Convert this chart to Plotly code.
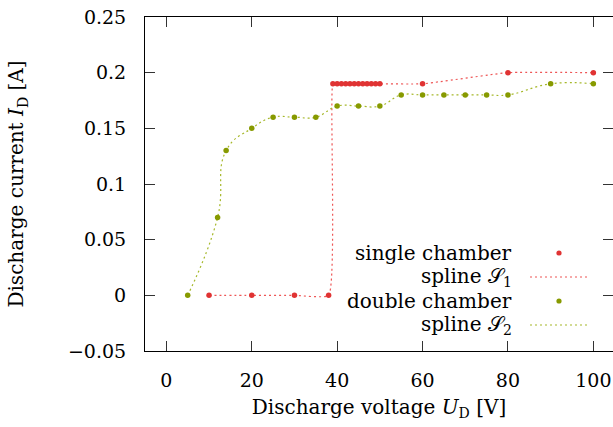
import plotly.graph_objects as go

# ---- data ----
single_x = [10, 20, 30, 38, 39, 40, 41, 42, 43, 44, 45, 46, 47, 48, 49, 50, 60, 80, 100]
single_y = [0, 0, 0, 0, 0.19, 0.19, 0.19, 0.19, 0.19, 0.19, 0.19, 0.19, 0.19, 0.19, 0.19, 0.19, 0.19, 0.2, 0.2]

double_x = [5, 12, 14, 20, 25, 30, 35, 40, 45, 50, 55, 60, 65, 70, 75, 80, 90, 100]
double_y = [0, 0.07, 0.13, 0.15, 0.16, 0.16, 0.16, 0.17, 0.17, 0.17, 0.18, 0.18, 0.18, 0.18, 0.18, 0.18, 0.19, 0.19]

x_tickvals = [0, 20, 40, 60, 80, 100]
x_ticktext = ["0", "20", "40", "60", "80", "100"]
y_tickvals = [-0.05, 0, 0.05, 0.1, 0.15, 0.2, 0.25]
y_ticktext = ["\u22120.05", "0", "0.05", "0.1", "0.15", "0.2", "0.25"]

legend_labels = ["single chamber", "spline \U0001D4AE<sub>1</sub>", "double chamber", "spline \U0001D4AE<sub>2</sub>"]

RED = "#e03333"
RED_LINE = "#ee5555"
GREEN = "#879a00"
GREEN_LINE = "#a6b82a"
FONT = "DejaVu Serif"
FS_TICK = 19
FS = 20

W, H = 613, 427
L, R, T, B = 145, 0, 17, 76

fig = go.Figure()

fig.add_trace(go.Scatter(x=single_x, y=single_y, mode="lines",
                         line=dict(color=RED_LINE, width=1.2, dash="2px,3px", shape="spline", smoothing=0.4),
                         showlegend=False, hoverinfo="skip"))
fig.add_trace(go.Scatter(x=double_x, y=double_y, mode="lines",
                         line=dict(color=GREEN_LINE, width=1.2, dash="2px,3px", shape="spline", smoothing=1.3),
                         showlegend=False, hoverinfo="skip"))
fig.add_trace(go.Scatter(x=single_x, y=single_y, mode="markers",
                         marker=dict(color=RED, size=5.5), showlegend=False))
fig.add_trace(go.Scatter(x=double_x, y=double_y, mode="markers",
                         marker=dict(color=GREEN, size=5.5), showlegend=False))

# ---- manual legend (text right, sample to the right) ----
pw = W - L - R
ph = H - T - B
def px(xp):
    return (xp - L) / pw
def py(yp):
    return (H - B - yp) / ph

rows_y = [253, 277, 301, 325]
text_right = 514
for i, (lab, yy) in enumerate(zip(legend_labels, rows_y)):
    fig.add_annotation(xref="paper", yref="paper", x=px(text_right), y=py(yy),
                       text=lab, showarrow=False, xanchor="right", yanchor="middle",
                       font=dict(family=FONT, size=FS, color="black"))
for yy, col in [(rows_y[0], RED), (rows_y[2], GREEN)]:
    r = 2.6
    fig.add_shape(type="circle", xref="paper", yref="paper",
                  x0=px(559 - r), x1=px(559 + r), y0=py(yy + r), y1=py(yy - r),
                  fillcolor=col, line=dict(width=0))
for yy, col in [(rows_y[1], RED_LINE), (rows_y[3], GREEN_LINE)]:
    fig.add_shape(type="line", xref="paper", yref="paper",
                  x0=px(530), x1=px(587), y0=py(yy), y1=py(yy),
                  line=dict(color=col, width=1.2, dash="2px,3px"))

axis_common = dict(showgrid=False, zeroline=False, showline=True, linecolor="black", linewidth=1,
                   mirror="ticks", ticks="inside", ticklen=10, tickcolor="#333333", tickwidth=1,
                   tickfont=dict(family=FONT, size=FS_TICK, color="black"))

fig.update_layout(
    width=W, height=H,
    margin=dict(l=L, r=R, t=T, b=B, pad=0, autoexpand=False),
    plot_bgcolor="white", paper_bgcolor="white",
    font=dict(family=FONT, size=FS, color="black"),
    xaxis=dict(range=[-5, 104.6], tickvals=x_tickvals, ticktext=x_ticktext,
               title=dict(text="Discharge voltage <i>U</i><sub>D</sub> [V]",
                          font=dict(family=FONT, size=FS), standoff=10),
               ticklabelstandoff=12, automargin=False, **axis_common),
    yaxis=dict(range=[-0.05, 0.25], tickvals=y_tickvals, ticktext=y_ticktext,
               title=dict(text="Discharge current <i>I</i><sub>D</sub> [A]",
                          font=dict(family=FONT, size=FS), standoff=38),
               ticklabelstandoff=14, automargin=False, **axis_common),
)

fig.write_html("out.html", config={"displayModeBar": False},
               post_script="document.body.style.margin='0';document.body.style.padding='0';")
